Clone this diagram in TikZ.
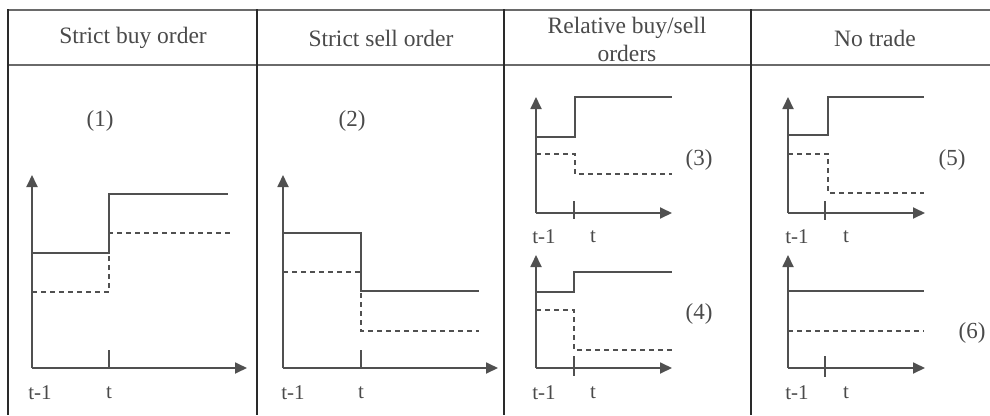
\documentclass[tikz,border=0pt]{standalone}
\usepackage{fontspec}
\setmainfont{Liberation Serif}
\usetikzlibrary{arrows.meta}
\definecolor{linegray}{HTML}{505050}
\definecolor{textgray}{HTML}{4A4A4A}
\definecolor{ruledark}{HTML}{2A2A2A}
\definecolor{rulegray}{HTML}{6A6A6A}
\tikzset{
  vrule/.style={draw=ruledark,line width=2pt},
  hrule/.style={draw=rulegray,line width=1.8pt},
  axis/.style={draw=linegray,line width=1.8pt,-{Triangle[length=12pt,width=11pt]}},
  tickline/.style={draw=linegray,line width=1.5pt},
  solidcurve/.style={draw=linegray,line width=1.8pt},
  dashcurve/.style={draw=linegray,line width=1.8pt,dash pattern=on 5pt off 4pt},
  head/.style={text=textgray,font=\fontsize{23.5}{26}\selectfont,align=center,inner sep=0pt},
  num/.style={text=textgray,font=\fontsize{23}{26}\selectfont,inner sep=0pt},
  tlab/.style={text=textgray,font=\fontsize{21}{24}\selectfont,inner sep=0pt}
}
\begin{document}
\begin{tikzpicture}[x=1pt,y=-1pt]
\useasboundingbox[fill=white] (0,0) rectangle (990,415);
% table rules
\draw[hrule] (8,10) -- (990,10);
\draw[hrule] (8,65) -- (990,65);
\draw[vrule] (8,9) -- (8,415);
\draw[vrule] (257,9) -- (257,415);
\draw[vrule] (504,9) -- (504,415);
\draw[vrule] (751,9) -- (751,415);
% headers
\node[head] (h1) at (133,38) {Strict buy order};
\node[head] (h2) at (381,38) {Strict sell order};
\node[head] (h3) at (627,39) {Relative buy/sell\\[2pt]orders};
\node[head] (h4) at (875,38) {No trade};
% panel 1
\coordinate (o1) at (32,368);
\draw[axis] (o1) -- (32,175);
\draw[axis] (o1) -- (247,368);
\draw[tickline] (109,350) -- (109,368);
\draw[solidcurve] (32,253) -- (109,253) -- (109,194) -- (228,194);
\draw[dashcurve] (32,292) -- (109,292) -- (109,233) -- (230,233);
\node[num] (n1) at (100,121) {(1)};
\node[tlab] (a1) at (40,393) {t-1};
\node[tlab] (b1) at (109,393) {t};
% panel 2
\coordinate (o2) at (283,368);
\draw[axis] (o2) -- (283,175);
\draw[axis] (o2) -- (498,368);
\draw[tickline] (361,350) -- (361,368);
\draw[solidcurve] (283,233) -- (361,233) -- (361,291) -- (479,291);
\draw[dashcurve] (283,272) -- (361,272) -- (361,331) -- (479,331);
\node[num] (n2) at (352,121) {(2)};
\node[tlab] (a2) at (293,393) {t-1};
\node[tlab] (b2) at (361,393) {t};
% panel 3
\coordinate (o3) at (536,213);
\draw[axis] (o3) -- (536,97);
\draw[axis] (o3) -- (672,213);
\draw[tickline] (574,201) -- (574,219);
\draw[solidcurve] (536,137) -- (575,137) -- (575,97) -- (672,97);
\draw[dashcurve] (536,154) -- (575,154) -- (575,174) -- (672,174);
\node[num] (n3) at (699,160) {(3)};
\node[tlab] (a3) at (544,237) {t-1};
\node[tlab] (b3) at (593,237) {t};
% panel 4
\coordinate (o4) at (536,368);
\draw[axis] (o4) -- (536,255);
\draw[axis] (o4) -- (672,368);
\draw[tickline] (574,356) -- (574,376);
\draw[solidcurve] (536,292) -- (574,292) -- (574,272) -- (672,272);
\draw[dashcurve] (536,310) -- (574,310) -- (574,350) -- (672,350);
\node[num] (n4) at (699,314) {(4)};
\node[tlab] (a4) at (544,393) {t-1};
\node[tlab] (b4) at (593,393) {t};
% panel 5
\coordinate (o5) at (788,213);
\draw[axis] (o5) -- (788,97);
\draw[axis] (o5) -- (925,213);
\draw[tickline] (825,201) -- (825,220);
\draw[solidcurve] (788,135) -- (828,135) -- (828,97) -- (924,97);
\draw[dashcurve] (788,154) -- (828,154) -- (828,193) -- (924,193);
\node[num] (n5) at (952,160) {(5)};
\node[tlab] (a5) at (797,237) {t-1};
\node[tlab] (b5) at (846,237) {t};
% panel 6
\coordinate (o6) at (788,368);
\draw[axis] (o6) -- (788,255);
\draw[axis] (o6) -- (925,368);
\draw[tickline] (825,356) -- (825,377);
\draw[solidcurve] (788,291) -- (924,291);
\draw[dashcurve] (788,331) -- (924,331);
\node[num] (n6) at (972,333) {(6)};
\node[tlab] (a6) at (797,393) {t-1};
\node[tlab] (b6) at (846,393) {t};
\end{tikzpicture}
\end{document}
